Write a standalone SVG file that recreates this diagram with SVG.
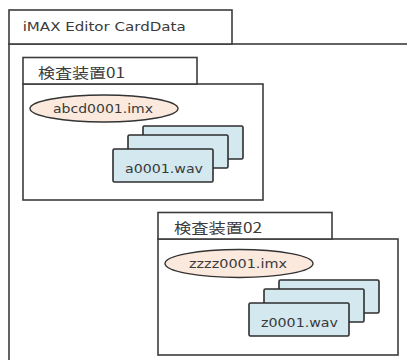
<svg xmlns="http://www.w3.org/2000/svg" width="407" height="360" viewBox="0 0 407 360">
  <style>
    .frame { fill: #ffffff; stroke: #3c3c3c; stroke-width: 1.6; }
    .file { fill: #fbe9dd; stroke: #333333; stroke-width: 1.4; }
    .card { fill: #d3e8ef; stroke: #2e2e2e; stroke-width: 1.6; }
    .t { font-family: "DejaVu Sans", "Noto Sans CJK JP", sans-serif; font-size: 12.5px; fill: #3a3a3a; }
    .jp { font-family: "Noto Sans CJK JP", sans-serif; font-size: 14px; fill: #3a3a3a; }
  </style>
  <rect width="407" height="360" fill="#ffffff"/>

  <g id="cardData">
    <rect class="frame" x="9" y="44" width="420" height="340"/>
    <rect class="frame" x="9" y="10" width="223" height="34"/>
    <text class="t" x="22.7" y="31" textLength="163" lengthAdjust="spacingAndGlyphs">iMAX Editor CardData</text>
  </g>

  <g id="device01">
    <rect class="frame" x="23" y="84" width="240" height="116"/>
    <rect class="frame" x="23" y="57.5" width="174" height="26.5"/>
    <text class="jp" x="38" y="78" textLength="87" lengthAdjust="spacingAndGlyphs">検査装置01</text>
  </g>

  <g id="imx01">
    <ellipse class="file" cx="104" cy="108.5" rx="74" ry="13.5"/>
    <text class="t" x="53" y="113" textLength="100" lengthAdjust="spacingAndGlyphs">abcd0001.imx</text>
  </g>

  <g id="wav01">
    <rect class="card" x="143" y="126" width="100" height="33" rx="1.5"/>
    <rect class="card" x="128" y="135" width="100" height="33" rx="1.5"/>
    <rect class="card" x="113" y="149" width="100" height="33" rx="1.5"/>
    <text class="t" x="125" y="173" textLength="78" lengthAdjust="spacingAndGlyphs">a0001.wav</text>
  </g>

  <g id="device02">
    <rect class="frame" x="158" y="239" width="240" height="116"/>
    <rect class="frame" x="158" y="212.5" width="174" height="26.5"/>
    <text class="jp" x="174" y="233" textLength="88" lengthAdjust="spacingAndGlyphs">検査装置02</text>
  </g>

  <g id="imx02">
    <ellipse class="file" cx="239" cy="263.5" rx="74" ry="14"/>
    <text class="t" x="189" y="267.5" textLength="98" lengthAdjust="spacingAndGlyphs">zzzz0001.imx</text>
  </g>

  <g id="wav02">
    <rect class="card" x="279" y="280" width="100" height="33" rx="1.5"/>
    <rect class="card" x="264" y="289" width="100" height="33" rx="1.5"/>
    <rect class="card" x="249" y="303" width="100" height="33" rx="1.5"/>
    <text class="t" x="261" y="327" textLength="77" lengthAdjust="spacingAndGlyphs">z0001.wav</text>
  </g>

  <g id="connectors"></g>
</svg>
